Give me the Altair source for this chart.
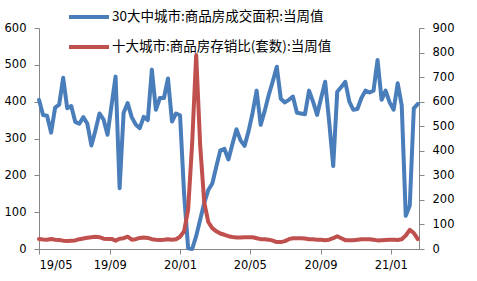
import altair as alt
import pandas as pd

# weekly observations, starting 2019-05-05
start_date = "2019-05-05"
n_weeks = 95

name_area = "30大中城市:商品房成交面积:当周值"
name_ratio = "十大城市:商品房存销比(套数):当周值"

area = [405, 364, 362, 316, 384, 392, 465, 382, 388, 345,
        340, 358, 340, 281, 322, 368, 352, 310, 390, 468,
        165, 370, 396, 358, 338, 328, 359, 350, 487, 378,
        410, 410, 463, 346, 368, 363, 150, 2, 0, 35,
        80, 125, 160, 178, 224, 268, 272, 243, 285, 325,
        295, 280, 320, 370, 430, 337, 375, 418, 455, 495,
        408, 398, 405, 414, 370, 368, 366, 430, 400, 364,
        410, 454, 345, 225, 427, 440, 454, 400, 378, 380,
        410, 430, 425, 430, 513, 405, 430, 398, 378, 450,
        390, 90, 118, 382, 394]

ratio = [41, 39, 38, 41, 38, 37, 34, 33, 34, 35,
         40, 43, 46, 48, 50, 48, 42, 41, 41, 34,
         42, 44, 50, 38, 40, 45, 47, 45, 40, 38,
         37, 38, 40, 38, 40, 50, 72, 160, 430, 790,
         420, 190, 110, 85, 72, 63, 58, 52, 49, 47,
         47, 48, 48, 48, 44, 40, 40, 38, 34, 28,
         28, 32, 40, 44, 44, 44, 43, 40, 40, 38,
         38, 36, 38, 44, 52, 44, 36, 36, 36, 38,
         40, 40, 40, 38, 35, 36, 37, 38, 38, 37,
         40, 55, 78, 65, 40]

dates = pd.date_range(start_date, periods=n_weeks, freq="7D").strftime("%Y-%m-%d").tolist()

df = pd.DataFrame({
    "date": dates * 2,
    "series": [name_area] * n_weeks + [name_ratio] * n_weeks,
    "value": area + ratio,
})

x_ticks = [alt.DateTime(year=y, month=m, date=5, utc=True)
           for y, m in [(2019, 5), (2019, 9), (2020, 1), (2020, 5), (2020, 9), (2021, 1)]]
x_domain = [alt.DateTime(year=2019, month=5, date=5, utc=True),
            alt.DateTime(year=2021, month=2, date=23, utc=True)]

axis_common = dict(
    grid=False, domainColor="#868686", tickColor="#868686", tickSize=5,
    labelFont="DejaVu Sans", labelFontSize=11.5, labelColor="#000000", title=None,
)

x_enc = alt.X("date:T",
              scale=alt.Scale(type="utc", domain=x_domain),
              axis=alt.Axis(values=x_ticks,
                            labelExpr="utcFormat(datum.value, '%y/%m')",
                            labelPadding=5, **axis_common))

color_enc = alt.Color("series:N",
                      scale=alt.Scale(domain=[name_area, name_ratio],
                                      range=["#4A7EBB", "#C0504D"]),
                      legend=alt.Legend(orient="none", legendX=28, legendY=-33,
                                        direction="vertical", title=None,
                                        symbolType="stroke", symbolSize=1600,
                                        symbolStrokeWidth=4, labelOffset=1,
                                        labelFont="Noto Sans CJK SC", labelFontSize=13.5,
                                        labelColor="#000000", labelLimit=500,
                                        rowPadding=-10, padding=0))

base = alt.Chart(df)

area_line = base.transform_filter(alt.datum.series == name_area).mark_line(
    strokeWidth=4, strokeJoin="round", strokeCap="round"
).encode(
    x=x_enc,
    y=alt.Y("value:Q", scale=alt.Scale(domain=[0, 600], nice=False, zero=True),
            axis=alt.Axis(orient="left", values=list(range(0, 601, 100)),
                          labelPadding=8, **axis_common)),
    color=color_enc,
)

ratio_line = base.transform_filter(alt.datum.series == name_ratio).mark_line(
    strokeWidth=4, strokeJoin="round", strokeCap="round"
).encode(
    x=x_enc,
    y=alt.Y("value:Q", scale=alt.Scale(domain=[0, 900], nice=False, zero=True),
            axis=alt.Axis(orient="right", values=list(range(0, 901, 100)),
                          labelPadding=8, **axis_common)),
    color=color_enc,
)

chart = alt.layer(area_line, ratio_line).resolve_scale(y="independent").properties(
    width=380, height=221,
    autosize=alt.AutoSizeParams(type="none"),
    padding={"left": 39, "top": 28, "right": 58, "bottom": 32},
    background="#ffffff",
).configure_view(stroke=None)

chart.save("out.html", embed_options={"renderer": "svg", "actions": False})
